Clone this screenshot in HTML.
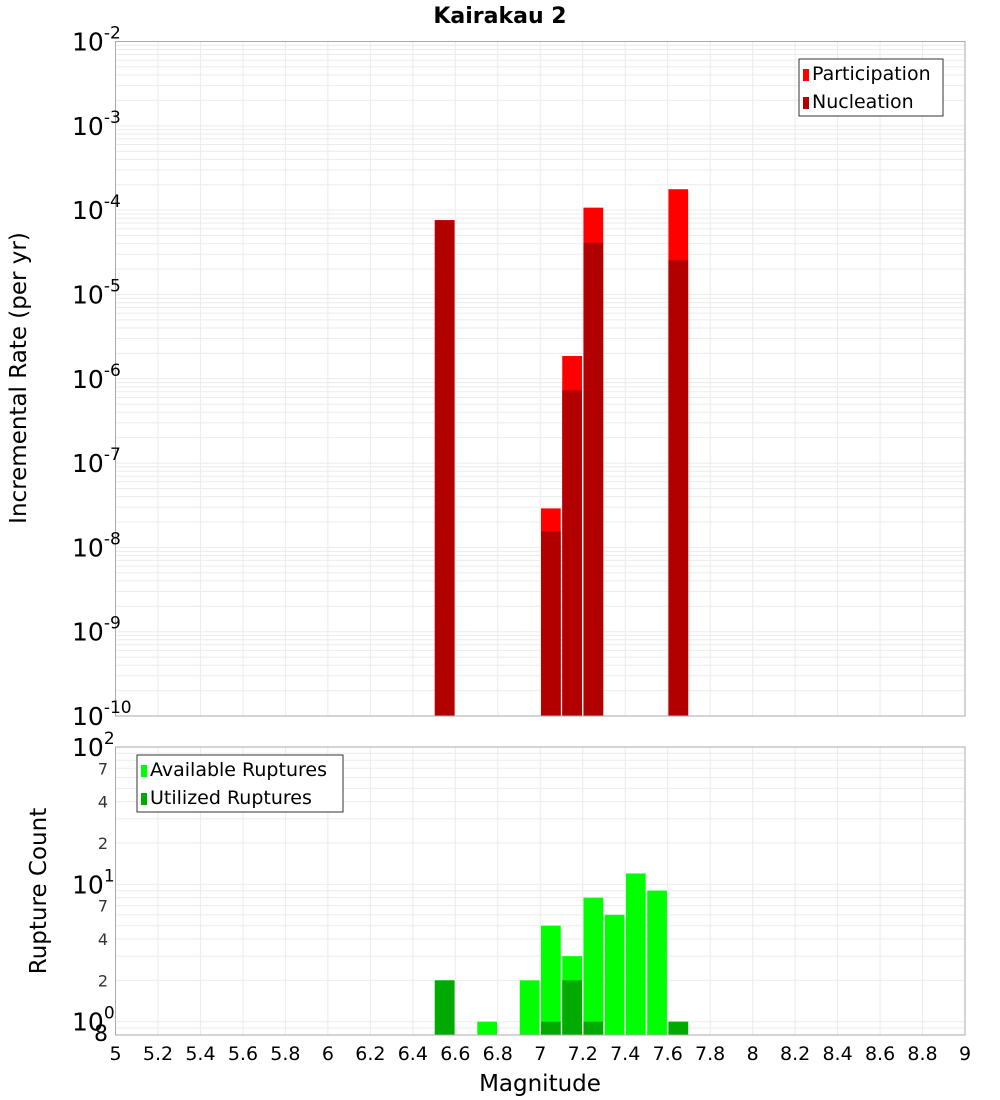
<!DOCTYPE html>
<html><head><meta charset="utf-8"><style>
body{margin:0;background:#fff;font-family:"Liberation Sans","DejaVu Sans",sans-serif}
svg{display:block}
text{font-family:"DejaVu Sans","Liberation Sans",sans-serif}
</style></head><body>
<svg id="c" width="1000" height="1100" xmlns="http://www.w3.org/2000/svg"></svg>
<script>
const mags=[6.55,7.05,7.15,7.25,7.65];
const participation=[7.6e-5,2.9e-8,1.86e-6,1.07e-4,1.77e-4];
const nucleation=[7.6e-5,1.55e-8,7.3e-7,4.1e-5,2.54e-5];
const countMags=[6.55,6.75,6.95,7.05,7.15,7.25,7.35,7.45,7.55,7.65];
const available=[2,1,2,5,3,8,6,12,9,1];
const utilized=[2,0,0,1,2,1,0,0,0,1];
const xTicks=[5,5.2,5.4,5.6,5.8,6,6.2,6.4,6.6,6.8,7,7.2,7.4,7.6,7.8,8,8.2,8.4,8.6,8.8,9];
const topExps=[-2,-3,-4,-5,-6,-7,-8,-9,-10];
const botMinor=[2,4,7,20,40,70];

const svg=document.getElementById('c');
const NS='http://www.w3.org/2000/svg';
function el(t,a,p){const e=document.createElementNS(NS,t);for(const k in a)e.setAttribute(k,a[k]);(p||svg).appendChild(e);return e;}
const L=115.5,R=965,T1=41.5,B1=716,T2=747,B2=1035;
const x=m=>L+(m-5)/4*(R-L);
const y1=v=>T1+(-2-Math.log10(v))/8*(B1-T1);
const bLo=0.8,bHi=100;
const y2=v=>B2-(Math.log10(v)-Math.log10(bLo))/(Math.log10(bHi)-Math.log10(bLo))*(B2-T2);
const bw=(x(5.1)-x(5))-1.5;

let t=el('text',{x:500,y:23,'text-anchor':'middle','font-size':22,'font-weight':'bold'});t.textContent='Kairakau 2';


const g1=el('g',{});
for(let e=-10;e<-2;e++)for(let k=1;k<10;k++){const yy=y1(k*Math.pow(10,e));el('line',{x1:L,x2:R,y1:yy,y2:yy,stroke:'#ebebeb','stroke-width':1},g1);}
xTicks.forEach(m=>el('line',{x1:x(m),x2:x(m),y1:T1,y2:B1,stroke:'#ebebeb'},g1));
const g2=el('g',{});
[0.8,0.9,1,2,3,4,5,6,7,8,9,10,20,30,40,50,60,70,80,90].forEach(v=>{const yy=y2(v);el('line',{x1:L,x2:R,y1:yy,y2:yy,stroke:'#ebebeb'},g2);});
xTicks.forEach(m=>el('line',{x1:x(m),x2:x(m),y1:T2,y2:B2,stroke:'#ebebeb'},g2));

mags.forEach((m,i)=>{
 let r=el('rect',{x:x(m)-bw/2,y:y1(participation[i]),width:bw,height:B1-y1(participation[i]),fill:'#ff0000'});
 
 r=el('rect',{x:x(m)-bw/2,y:y1(nucleation[i]),width:bw,height:B1-y1(nucleation[i]),fill:'#b20000'});
 
});
countMags.forEach((m,i)=>{
 if(available[i]>0){let r=el('rect',{x:x(m)-bw/2,y:y2(available[i]),width:bw,height:B2-y2(available[i]),fill:'#00ff00'});
 }
 if(utilized[i]>0){let r=el('rect',{x:x(m)-bw/2,y:y2(utilized[i]),width:bw,height:B2-y2(utilized[i]),fill:'#00aa00'});
 }
});

el('rect',{x:L,y:T1,width:R-L,height:B1-T1,fill:'none',stroke:'#aaa'});
el('rect',{x:L,y:T2,width:R-L,height:B2-T2,fill:'none',stroke:'#aaa'});

topExps.forEach(e=>{const yy=y1(Math.pow(10,e));
 const tx=el('text',{x:72,y:yy+9,'font-size':25});tx.textContent='10';
 const s=el('tspan',{dy:-12,'font-size':17},tx);s.textContent=String(e);
 });
[[100,'2'],[10,'1'],[1,'0']].forEach(([v,e])=>{const yy=y2(v);
 const tx=el('text',{x:72,y:yy+9,'font-size':25});tx.textContent='10';
 const s=el('tspan',{dy:-12,'font-size':17},tx);s.textContent=e;
 });
botMinor.concat([0.8]).forEach(v=>{const yy=y2(v);
 const tx=el('text',{x:108,y:yy+6,'text-anchor':'end','font-size':v==0.8?22:16,fill:v==0.8?'#000':'#333'});tx.textContent=v==0.8?'8':String(v).replace(/0$/,'');
 });
xTicks.forEach(m=>{const tx=el('text',{x:x(m),y:1060,'text-anchor':'middle','font-size':19});tx.textContent=String(m);
 });

t=el('text',{x:540,y:1091,'text-anchor':'middle','font-size':23});t.textContent='Magnitude';

t=el('text',{x:0,y:0,'text-anchor':'middle','font-size':23,transform:'translate(26,378) rotate(-90)'});t.textContent='Incremental Rate (per yr)';

t=el('text',{x:0,y:0,'text-anchor':'middle','font-size':23,transform:'translate(46,891) rotate(-90)'});t.textContent='Rupture Count';


function legend(x0,y0,w,items,name){const g=el('g',{});
 el('rect',{x:x0,y:y0,width:w,height:57,fill:'#fff',stroke:'#333'},g);
 items.forEach(([c,lab],i)=>{el('rect',{x:x0+4,y:y0+10+i*28,width:6,height:12,fill:c},g);
  const tx=el('text',{x:x0+13,y:y0+21+i*28,'font-size':19},g);tx.textContent=lab;
  });}
legend(799,59,144,[['#ff0000','Participation'],['#b20000','Nucleation']],'top-legend');
legend(137,755,206,[['#00ff00','Available Ruptures'],['#00aa00','Utilized Ruptures']],'bottom-legend');
</script>
</body></html>
